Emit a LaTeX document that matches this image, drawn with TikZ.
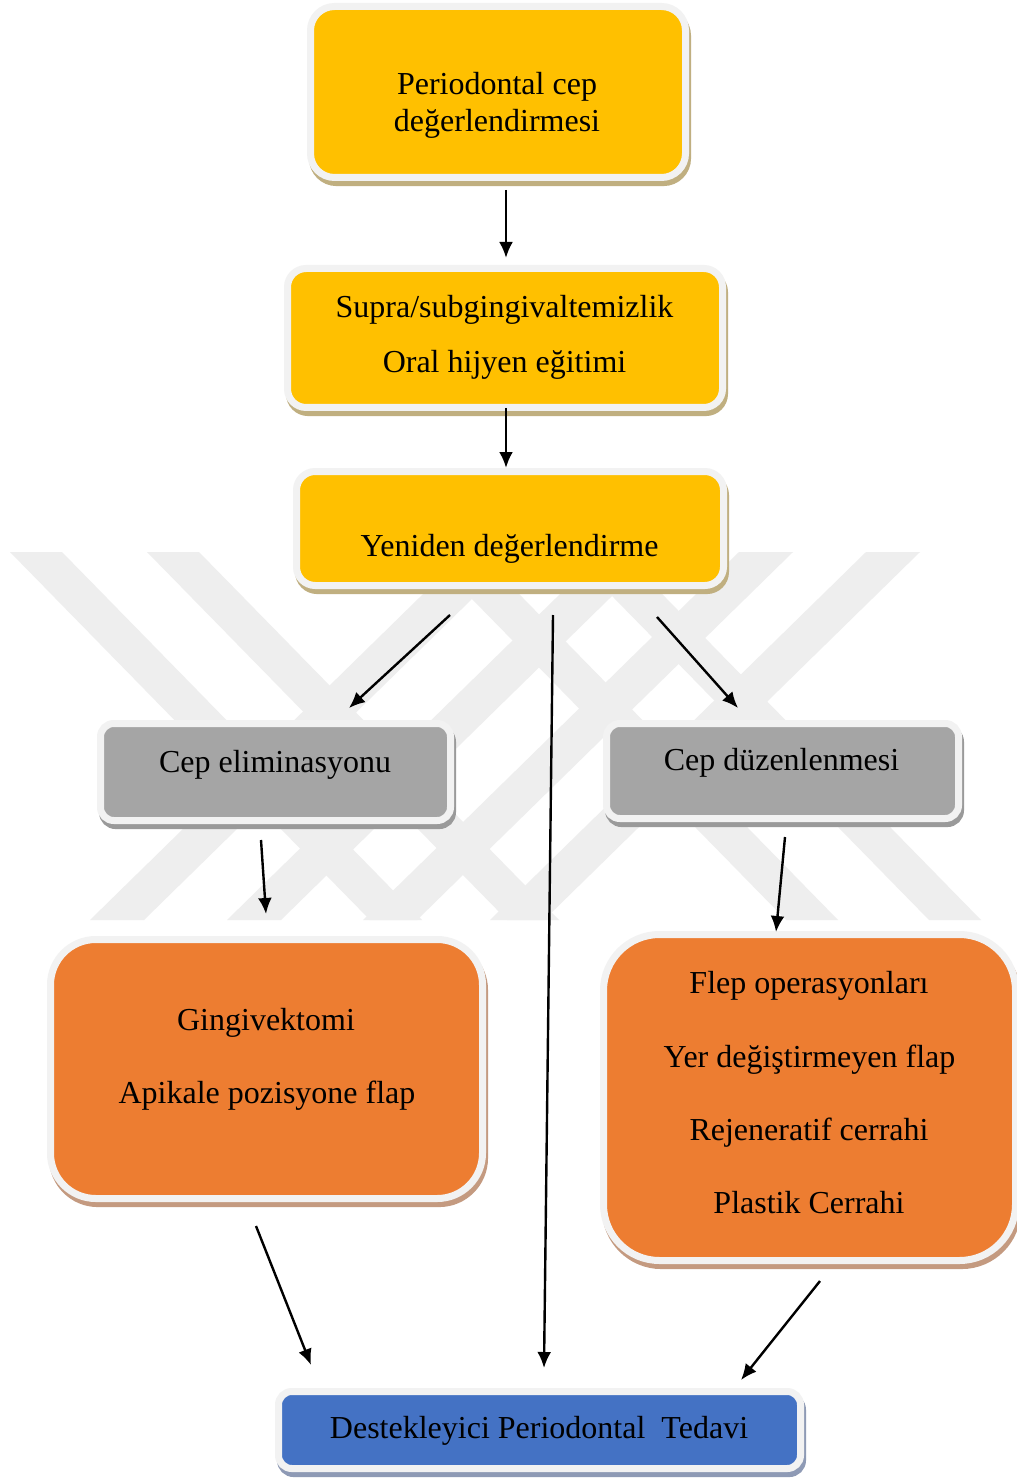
\documentclass[tikz,border=0pt]{standalone}
\usepackage{fontspec}
\setmainfont{Liberation Serif}
\usetikzlibrary{arrows.meta,fit}

\definecolor{framec}{HTML}{F2F2F2}
\definecolor{yel}{HTML}{FFC000}
\definecolor{yelsh}{HTML}{C0AF80}
\definecolor{gry}{HTML}{A5A5A5}
\definecolor{grysh}{HTML}{9A9A9A}
\definecolor{org}{HTML}{ED7D31}
\definecolor{orgsh}{HTML}{C49A80}
\definecolor{blu}{HTML}{4472C4}
\definecolor{blush}{HTML}{8E9AB5}
\definecolor{mark}{HTML}{EEEEEE}

\tikzset{
  card/.style 2 args={rectangle, inner sep=1.3125pt, outer sep=0pt,
    draw=framec, line width=2.625pt, fill=#1,
    preaction={draw=#2, fill=#2, line width=2.625pt,
      transform canvas={xshift=0.75pt, yshift=-1.9pt}}},
  lbl/.style={anchor=base, inner sep=0pt, font=\fontsize{12pt}{14pt}\selectfont},
  arr/.style={line width=0.9pt, -{Latex[length=6pt,width=5.2pt]}},
  band/.style={fill=mark, draw=none}
}

\begin{document}
\begin{tikzpicture}[x=0.375pt, y=-0.375pt]
\useasboundingbox (0,0) rectangle (1016,1479);
\fill[white] (0,0) rectangle (1016,1479);

% watermark: crossing diagonal bands
\foreach \a in {10,147,426,569}
  \fill[band] (\a,552) -- (\a+52,552) -- (\a+412,920) -- (\a+360,920) -- cycle;
\foreach \b in {90,227,363,490}
  \fill[band] (\b,920) -- (\b+54,920) -- (\b+430,552) -- (\b+376,552) -- cycle;

% boxes
\node[card={yel}{yelsh}, rounded corners=9pt, fit={(314,10) (682,174)}] (b1) {};
\node[card={yel}{yelsh}, rounded corners=7pt, fit={(291,272) (719,404)}] (b2) {};
\node[card={yel}{yelsh}, rounded corners=7pt, fit={(300,475) (720,582)}] (b3) {};
\node[card={gry}{grysh}, rounded corners=5pt, fit={(104,727) (447,817)}] (b4) {};
\node[card={gry}{grysh}, rounded corners=5pt, fit={(610,727) (955,815)}] (b5) {};
\node[card={org}{orgsh}, rounded corners=17pt, fit={(54,943) (479,1195)}] (b6) {};
\node[card={org}{orgsh}, rounded corners=21pt, fit={(607,938) (1012,1257)}] (b7) {};
\node[card={blu}{blush}, rounded corners=5pt, fit={(282,1395) (797,1465)}] (b8) {};

% labels
\node[lbl] (t1a) at (497,95) {Periodontal cep};
\node[lbl] (t1b) at (497,132) {değerlendirmesi};
\node[lbl] (t2a) at (504.5,318) {Supra/subgingivaltemizlik};
\node[lbl] (t2b) at (504.5,373) {Oral hijyen eğitimi};
\node[lbl] (t3) at (509.5,556) {Yeniden değerlendirme};
\node[lbl] (t4) at (275,772) {Cep eliminasyonu};
\node[lbl] (t5) at (781.5,770) {Cep düzenlenmesi};
\node[lbl] (t6a) at (266,1030) {Gingivektomi};
\node[lbl] (t6b) at (267,1103) {Apikale pozisyone flap};
\node[lbl] (t7a) at (809,993) {Flep operasyonları};
\node[lbl] (t7b) at (809.5,1067) {Yer değiştirmeyen flap};
\node[lbl] (t7c) at (809,1140) {Rejeneratif cerrahi};
\node[lbl] (t7d) at (809,1213) {Plastik Cerrahi};
\node[lbl] (t8) at (539,1438) {Destekleyici Periodontal\ \ Tedavi};

% connector end points
\coordinate (a1s) at (506,190);  \coordinate (a1e) at (506,258);
\coordinate (a2s) at (506,408);  \coordinate (a2e) at (506,468);
\coordinate (a3s) at (450,615);  \coordinate (a3e) at (349,708);
\coordinate (a4s) at (553,615);  \coordinate (a4e) at (544,1368);
\coordinate (a5s) at (657,617);  \coordinate (a5e) at (738,708);
\coordinate (a6s) at (261,840);  \coordinate (a6e) at (266,914);
\coordinate (a7s) at (785,837);  \coordinate (a7e) at (776,932);
\coordinate (a8s) at (256,1226); \coordinate (a8e) at (311,1365);
\coordinate (a9s) at (820,1281); \coordinate (a9e) at (741,1380);

\draw[arr] (a1s) -- (a1e);
\draw[arr] (a2s) -- (a2e);
\draw[arr] (a3s) -- (a3e);
\draw[arr] (a4s) -- (a4e);
\draw[arr] (a5s) -- (a5e);
\draw[arr] (a6s) -- (a6e);
\draw[arr] (a7s) -- (a7e);
\draw[arr] (a8s) -- (a8e);
\draw[arr] (a9s) -- (a9e);
\end{tikzpicture}
\end{document}
